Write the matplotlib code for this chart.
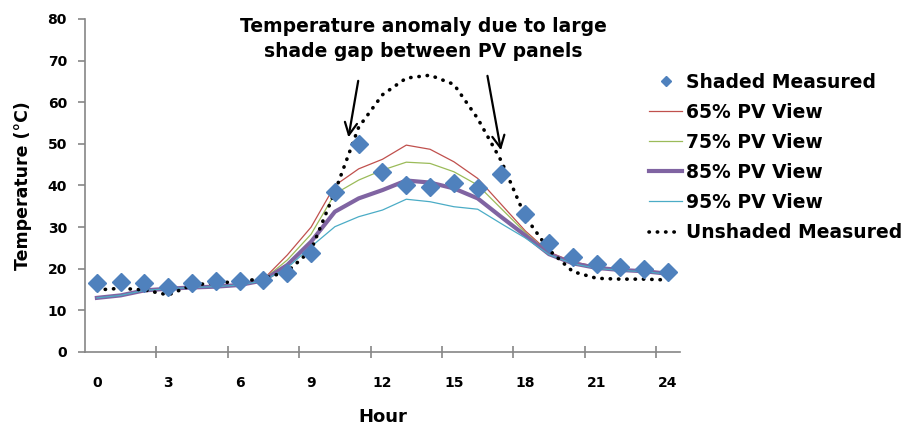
import matplotlib
matplotlib.use("Agg")
import matplotlib.pyplot as plt
from matplotlib.ticker import FixedLocator

plt.rcParams['font.family'] = ['DejaVu Sans']
plt.rcParams['font.weight'] = 'bold'

# hourly temperatures (deg C)
hours = list(range(25))
shaded = [16.6, 16.8, 16.6, 15.7, 16.6, 17.1, 17.1, 17.2, 18.9, 23.7, 38.5, 49.9, 43.3,
          40.1, 39.7, 40.5, 39.5, 42.8, 33.1, 26.3, 22.7, 21.1, 20.3, 19.9, 19.3]
pv65 = [13.0, 13.6, 14.8, 15.2, 15.5, 15.7, 16.1, 17.5, 23.3, 30.0, 40.0, 44.0, 46.3,
        49.7, 48.7, 45.7, 41.7, 35.4, 29.1, 24.0, 21.7, 20.5, 19.9, 19.6, 19.0]
pv75 = [13.0, 13.6, 14.8, 15.2, 15.5, 15.7, 16.1, 17.4, 22.1, 28.3, 38.0, 41.3, 43.7,
        45.6, 45.3, 43.3, 40.1, 34.4, 28.7, 23.8, 21.5, 20.3, 19.8, 19.5, 18.9]
pv85 = [13.0, 13.6, 14.8, 15.2, 15.5, 15.7, 16.1, 17.2, 20.9, 26.5, 33.7, 36.9, 38.9,
        41.2, 40.7, 39.3, 36.9, 32.4, 28.0, 23.5, 21.3, 20.2, 19.7, 19.4, 18.8]
pv95 = [13.0, 13.6, 14.8, 15.2, 15.5, 15.7, 16.1, 17.1, 20.2, 25.3, 30.1, 32.5, 34.1,
        36.7, 36.1, 34.9, 34.3, 30.8, 27.4, 23.4, 21.2, 20.1, 19.6, 19.3, 18.7]
unshaded = [14.9, 15.3, 14.9, 13.7, 16.1, 16.6, 16.9, 17.7, 19.3, 24.5, 38.5, 54.0, 61.8,
            65.8, 66.5, 64.3, 56.1, 45.8, 32.5, 24.5, 19.3, 17.7, 17.5, 17.5, 17.3]

hour_labels = [0, 3, 6, 9, 12, 15, 18, 21, 24]
yticks = [0, 10, 20, 30, 40, 50, 60, 70, 80]

fig = plt.figure(figsize=(9.11, 4.25), dpi=100)
ax = fig.add_axes([0.0933, 0.1718, 0.6531, 0.7835])

ax.plot(hours, pv65, color="#C0504D", lw=0.9, label="65% PV View", zorder=2)
ax.plot(hours, pv75, color="#9BBB59", lw=0.9, label="75% PV View", zorder=2)
ax.plot(hours, pv85, color="#8064A2", lw=3.0, label="85% PV View", zorder=2)
ax.plot(hours, pv95, color="#4BACC6", lw=0.9, label="95% PV View", zorder=2)
ax.plot(hours, unshaded, color="black", lw=2.6, linestyle=(0, (0.1, 2.2)),
        dash_capstyle="round", label="Unshaded Measured", zorder=3)
ax.plot(hours, shaded, linestyle="none", marker="D", ms=9, color="#4F81BD",
        markeredgecolor="#4F81BD", label="Shaded Measured", zorder=4)

ax.set_xlim(-0.5, 24.5)
ax.set_ylim(0, 80)
ax.set_yticks(yticks)
ax.set_xticks(hour_labels)
ax.xaxis.set_minor_locator(FixedLocator([2.5, 5.5, 8.5, 11.5, 14.5, 17.5, 20.5, 23.5]))

for side in ["top", "right"]:
    ax.spines[side].set_visible(False)
for side in ["left", "bottom"]:
    ax.spines[side].set_color("#868686")
    ax.spines[side].set_linewidth(1.2)

ax.tick_params(axis="y", direction="out", length=5, width=1.2, color="#868686",
               pad=8, labelsize=10)
ax.tick_params(axis="x", which="major", length=0, pad=17, labelsize=10)
ax.tick_params(axis="x", which="minor", direction="inout", length=9, width=1.2,
               color="#868686")

ax.set_xlabel("Hour", fontsize=13, fontweight="bold", labelpad=13)
ax.set_ylabel("Temperature (\u00b0C)", fontsize=12.5, fontweight="bold", labelpad=11)

ax.text(13.7, 75.2, "Temperature anomaly due to large\nshade gap between PV panels",
        ha="center", va="center", fontsize=13.5, fontweight="bold", linespacing=1.45)
ax.annotate("", xy=(10.55, 50.9), xytext=(11.0, 65.8),
            arrowprops=dict(arrowstyle="->", lw=1.6, color="black",
                            mutation_scale=22))
ax.annotate("", xy=(17.0, 47.8), xytext=(16.39, 67.0),
            arrowprops=dict(arrowstyle="->", lw=1.6, color="black",
                            mutation_scale=22))

handles, labels = ax.get_legend_handles_labels()
order = [5, 0, 1, 2, 3, 4]
fig.legend([handles[i] for i in order], [labels[i] for i in order],
           loc="upper left", bbox_to_anchor=(0.6935, 0.8685), frameon=False,
           prop={"weight": "bold", "size": 13.5},
           handlelength=1.8, handletextpad=0.2, labelspacing=0.59,
           markerscale=0.6)

fig.savefig("out.png", dpi=100)
